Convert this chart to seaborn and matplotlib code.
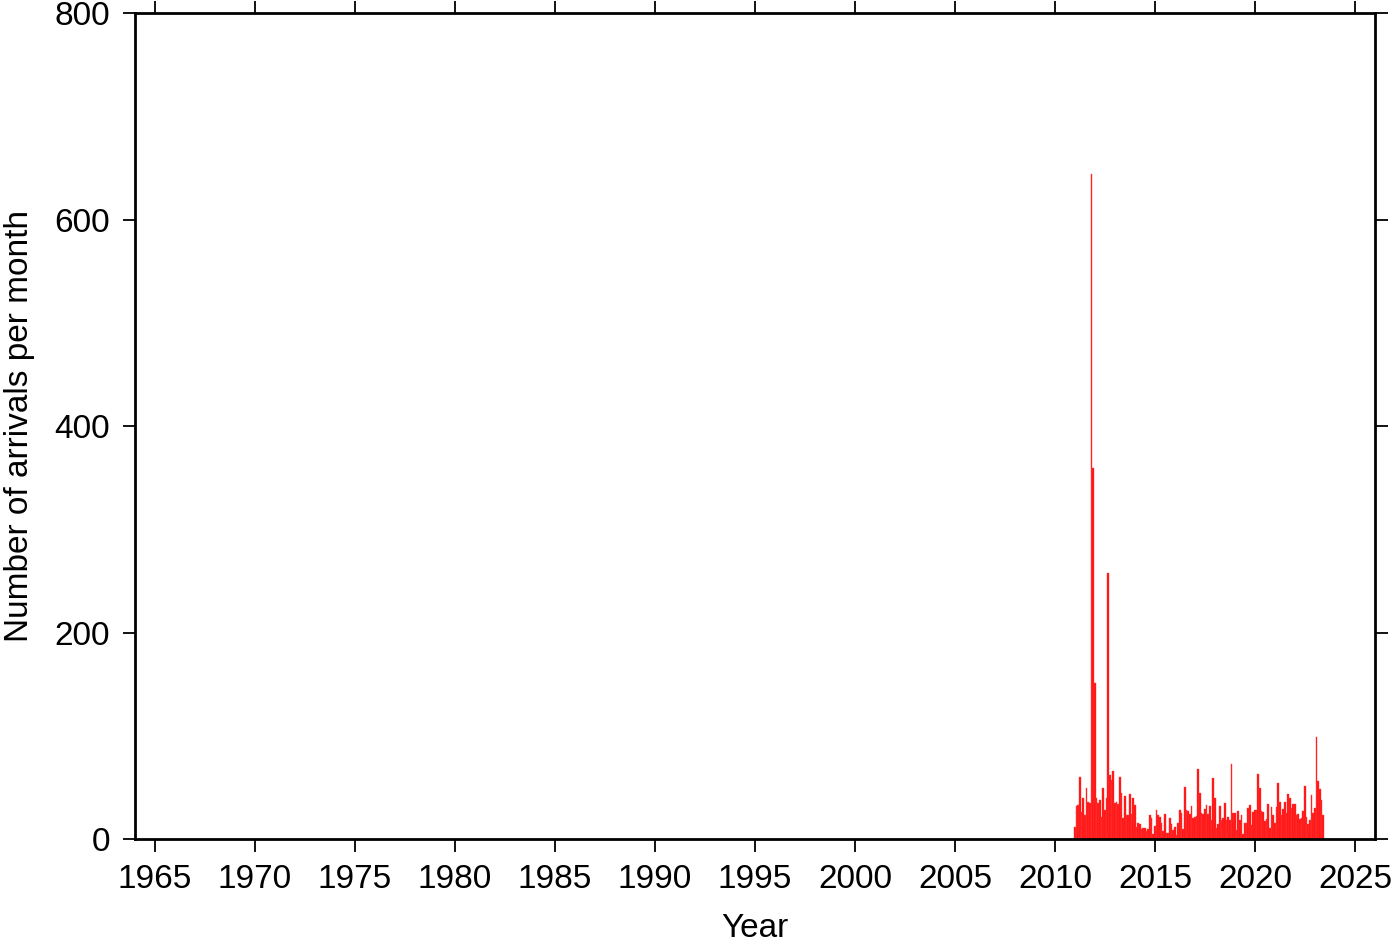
import numpy as np
import pandas as pd
import matplotlib
matplotlib.use("Agg")
import matplotlib.pyplot as plt
import seaborn as sns

# monthly arrival counts, starting January 2011
start_year = 2011
counts = [12, 32, 33, 60, 26, 40, 23, 49, 36, 35,
          644, 359, 151, 40, 35, 38, 21, 49, 28, 40,
          258, 62, 57, 66, 35, 36, 34, 60, 45, 20,
          42, 23, 23, 44, 24, 40, 33, 12, 16, 15,
          10, 11, 11, 8, 10, 23, 20, 5, 13, 28,
          23, 21, 16, 8, 24, 6, 6, 20, 15, 9,
          12, 4, 16, 28, 25, 10, 50, 28, 27, 24,
          32, 20, 21, 22, 68, 45, 25, 24, 29, 33,
          24, 32, 18, 59, 40, 11, 15, 32, 18, 20,
          35, 18, 21, 18, 73, 25, 25, 9, 27, 18,
          23, 5, 16, 16, 30, 33, 14, 26, 28, 28,
          63, 49, 27, 26, 17, 19, 34, 11, 31, 23,
          16, 31, 54, 36, 23, 29, 36, 25, 44, 40,
          30, 34, 34, 23, 24, 19, 20, 27, 51, 21,
          15, 18, 43, 25, 30, 99, 56, 48, 38, 23]
year_ticks = list(range(1965, 2030, 5))
count_ticks = [0, 200, 400, 600, 800]

n = len(counts)
month_time = start_year + np.arange(n) / 12.0
df = pd.DataFrame({"time": month_time, "arrivals": counts})
edges = list(start_year - 1 / 24 + np.arange(n + 1) / 12.0)

sns.set_style("ticks")
plt.rcParams["font.family"] = ["Liberation Sans", "DejaVu Sans"]
for key in ["text.color", "axes.labelcolor", "xtick.color", "ytick.color"]:
    plt.rcParams[key] = "black"

fig = plt.figure(figsize=(14, 9.42), dpi=100)
ax = fig.add_axes([0.0964, 0.1093, 0.8857, 0.8769])

sns.histplot(data=df, x="time", weights="arrivals", bins=edges, ax=ax,
             color="#ff1010", edgecolor="#ff4040", linewidth=0.3, alpha=1)

ax.set_xlim(1964, 2026)
ax.set_ylim(0, 800)
ax.set_xticks(year_ticks)
ax.set_yticks(count_ticks)
ax.set_xlabel("Year", fontsize=24, labelpad=13)
ax.set_ylabel("Number of arrivals per month", fontsize=24, labelpad=14)

ax.tick_params(axis="both", direction="out", length=9, width=1.3,
               labelsize=24, top=True, right=True, pad=9)
for sp in ax.spines.values():
    sp.set_visible(True)
    sp.set_linewidth(2)
    sp.set_color("black")

fig.savefig("out.png", dpi=100)
